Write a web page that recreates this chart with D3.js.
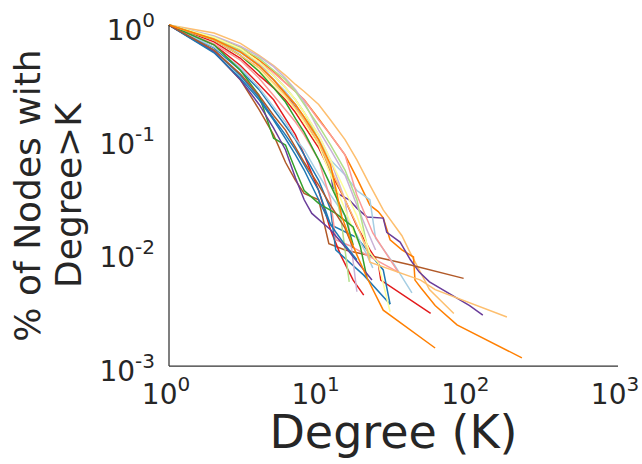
<!DOCTYPE html>
<html>
<head>
<meta charset="utf-8">
<script src="https://cdn.jsdelivr.net/npm/d3@7"></script>
<style>
  body { margin: 0; background: #fff; }
  svg text { font-family: "DejaVu Sans", sans-serif; fill: #262626; }
</style>
</head>
<body>
<div id="chart"></div>
<script>
// CCDF curves, [degree K, fraction of nodes with degree > K]
let line01 = [[1,1],[2,0.85],[3,0.69],[4,0.54],[5,0.44],[6,0.36],[7,0.30],[8,0.26],[10,0.20],[12,0.146],[15,0.098],[18,0.065],[22,0.039],[27,0.0236],[36,0.014],[40,0.0105],[45,0.0078],[55,0.0047],[80,0.0029]];
let line02 = [[1,1],[2,0.78],[3,0.64],[4,0.49],[5,0.39],[6,0.31],[7,0.26],[8,0.22],[10,0.15],[12,0.108],[15,0.072],[18,0.045],[22,0.026],[25,0.0228],[27,0.0201],[30,0.0129],[36,0.0105],[43,0.0091],[44,0.0057],[48,0.0049],[60,0.0034],[84,0.0023],[228,0.00118]];
let line03 = [[1,1],[2,0.77],[3,0.58],[4,0.44],[5,0.33],[6,0.25],[7,0.19],[8,0.15],[10,0.088],[12,0.053],[12.4,0.038],[13.3,0.033],[16,0.029],[18,0.0245],[21,0.0205],[27,0.020],[28.5,0.015],[35,0.0123],[41,0.0086],[47,0.0067],[55,0.0055],[102,0.0034],[125,0.0028]];
let line04 = [[1,1],[2,0.58],[3,0.33],[4,0.18],[5,0.108],[6,0.062],[7,0.043],[8,0.033],[10,0.029],[11.7,0.0119],[15,0.0105],[25,0.009],[40,0.0078],[93,0.0059]];
let line05 = [[1,1],[2,0.71],[3,0.51],[4,0.36],[5,0.28],[6,0.22],[7,0.17],[8,0.13],[10,0.083],[12,0.051],[15,0.029],[18,0.017],[22,0.0105],[25,0.0081],[26,0.0057],[56,0.0029]];
let line06 = [[1,1],[2,0.67],[3,0.44],[4,0.30],[5,0.22],[6,0.15],[7,0.108],[8,0.072],[10,0.035],[12,0.0158],[14,0.0095],[17,0.0057],[20,0.0042]];
let line07 = [[1,1],[2,0.60],[3,0.36],[4,0.23],[5,0.15],[6,0.108],[7,0.08],[8,0.059],[10,0.035],[12,0.0175],[18,0.0135],[27,0.007],[30,0.0035]];
let line08 = [[1,1],[2,0.63],[3,0.40],[4,0.27],[5,0.18],[6,0.13],[7,0.098],[8,0.072],[10,0.043],[12,0.024],[13,0.0105],[20,0.0063],[30,0.0035]];
let line09 = [[1,1],[2,0.74],[3,0.57],[4,0.44],[5,0.33],[6,0.26],[7,0.20],[8,0.15],[10,0.098],[12,0.065],[15,0.048],[18,0.035],[22,0.029],[24,0.0133],[32,0.0078],[42,0.0044]];
let line10 = [[1,1],[2,0.64],[3,0.42],[4,0.28],[5,0.19],[6,0.14],[7,0.10],[8,0.08],[10,0.048],[12,0.032],[15,0.021],[18,0.0142],[21,0.0095],[23,0.0073]];
let line11 = [[1,1],[2,0.77],[3,0.60],[4,0.47],[5,0.38],[6,0.31],[7,0.26],[8,0.22],[10,0.146],[12,0.108],[15,0.072],[18,0.032],[23,0.0148],[34,0.0067]];
let line12 = [[1,1],[2,0.68],[3,0.49],[4,0.34],[5,0.24],[6,0.18],[7,0.14],[8,0.108],[10,0.065],[12,0.029],[13,0.0129],[16,0.0115],[34,0.0067]];
let line13 = [[1,1],[2,0.75],[3,0.58],[4,0.45],[5,0.36],[6,0.28],[7,0.22],[8,0.17],[10,0.108],[12,0.065],[15,0.029],[16,0.0158],[18,0.0045]];
let line14 = [[1,1],[2,0.80],[3,0.65],[4,0.53],[5,0.43],[6,0.34],[7,0.27],[8,0.21],[10,0.119],[12,0.08],[15,0.048],[18,0.026],[21,0.0158],[24,0.0105]];
let line15 = [[1,1],[2,0.77],[3,0.60],[4,0.47],[5,0.36],[6,0.28],[7,0.22],[8,0.17],[10,0.098],[12,0.053],[14,0.021],[16,0.0055]];
let line16 = [[1,1],[2,0.78],[3,0.63],[4,0.51],[5,0.40],[6,0.33],[7,0.26],[8,0.20],[10,0.13],[12,0.088],[15,0.053],[18,0.029],[20,0.0158],[22,0.0086]];
let line17 = [[1,1],[2,0.78],[3,0.62],[4,0.47],[5,0.36],[6,0.28],[7,0.22],[8,0.17],[10,0.108],[12,0.065],[15,0.035],[18,0.021],[22,0.0099],[25,0.0081],[30,0.003]];
let line18 = [[1,1],[2,0.74],[3,0.54],[4,0.40],[5,0.30],[6,0.23],[7,0.18],[8,0.137],[10,0.088],[12,0.048],[15,0.024],[18,0.0129]];
let line19 = [[1,1],[2,0.67],[3,0.40],[4,0.24],[4.7,0.127],[5,0.101],[6,0.088],[7,0.053],[8,0.035],[10,0.027],[13,0.022],[17,0.0167],[19,0.0112],[21,0.006]];
let line20 = [[1,1],[2,0.74],[3,0.54],[4,0.39],[5,0.28],[6,0.21],[7,0.15],[8,0.114],[10,0.065],[12,0.039],[15,0.021],[17,0.0116]];
let line21 = [[1,1],[2,0.58],[3,0.33],[4,0.20],[5,0.124],[6,0.08],[7,0.045],[8,0.029],[9,0.022],[12,0.0158],[16,0.0101],[22.7,0.0057]];
let line22 = [[1,1],[2,0.57],[3,0.34],[4,0.22],[5,0.146],[6,0.10],[7,0.072],[8,0.053],[10,0.029],[12,0.0175],[15,0.0116],[18,0.0086]];
let line23 = [[1,1],[2,0.74],[3,0.54],[4,0.42],[5,0.31],[6,0.24],[7,0.186],[8,0.146],[10,0.092],[12,0.055],[15,0.029],[18,0.0175],[21,0.0105],[22,0.0082],[48,0.0057],[60,0.0047],[181,0.0027]];
let line24 = [[1,1],[2,0.60],[3,0.37],[4,0.24],[5,0.16],[6,0.119],[7,0.084],[8,0.062],[10,0.039],[12,0.026],[15,0.0163],[17,0.0109]];
let line25 = [[1,1],[2,0.75],[3,0.58],[4,0.44],[5,0.33],[6,0.25],[7,0.20],[8,0.155],[10,0.098],[12,0.059],[14.3,0.0205],[16,0.0137],[18,0.0095],[21,0.006],[27,0.0031],[60,0.00144]];

let lines = [line01, line02, line03, line04, line05, line06, line07, line08, line09, line10,
             line11, line12, line13, line14, line15, line16, line17, line18, line19, line20,
             line21, line22, line23, line24, line25];
let line_colors = ["#fdbf6f", "#ff7f00", "#6a3d9a", "#b15928", "#e31a1c", "#e31a1c", "#1f78b4", "#1f78b4",
                   "#a6cee3", "#a6cee3", "#fb9a99", "#fb9a99", "#cab2d6", "#cab2d6", "#b2df8a", "#b2df8a",
                   "#ffff99", "#ffff99", "#33a02c", "#33a02c", "#6a3d9a", "#1f78b4", "#fdbf6f", "#b15928", "#ff7f00"];

let x_ticks = [1, 10, 100, 1000];
let x_exps = ["0", "1", "2", "3"];
let y_ticks = [1, 0.1, 0.01, 0.001];
let y_exps = ["0", "-1", "-2", "-3"];

let width = 642;
let height = 464;
let margin = {top: 25, right: 24, bottom: 98, left: 169};

let svg = d3.select("#chart")
            .append("svg")
            .attr("width", width)
            .attr("height", height);

let x = d3.scaleLog()
          .domain([1, 1000])
          .range([margin.left, width - margin.right]);

let y = d3.scaleLog()
          .domain([0.001, 1])
          .range([height - margin.bottom, margin.top]);

let line = d3.line()
             .x(d => x(d[0]))
             .y(d => y(d[1]));

svg.append("g")
   .selectAll("path")
   .data(lines)
   .join("path")
   .attr("d", line)
   .style("fill", "none")
   .style("stroke", (d, i) => line_colors[i])
   .style("stroke-width", 1.5);

// spines (left + bottom only)
svg.append("line")
   .attr("x1", x(1)).attr("x2", x(1))
   .attr("y1", y(1)).attr("y2", y(0.001))
   .style("stroke", "#333").style("stroke-width", 1.25);

svg.append("line")
   .attr("x1", x(1)).attr("x2", x(1000))
   .attr("y1", y(0.001)).attr("y2", y(0.001))
   .style("stroke", "#333").style("stroke-width", 1.25);

// y tick labels
let yl = svg.append("g")
            .selectAll("text")
            .data(y_ticks)
            .join("text")
            .attr("x", 155)
            .attr("y", d => y(d) + 15)
            .attr("text-anchor", "end");
yl.append("tspan").style("font-size", "28px").text("10");
yl.append("tspan").style("font-size", "20px").attr("dy", -13).text((d, i) => y_exps[i]);

// x tick labels
let xl = svg.append("g")
            .selectAll("text")
            .data(x_ticks)
            .join("text")
            .attr("x", d => x(d) - 3)
            .attr("y", 404)
            .attr("text-anchor", "middle");
xl.append("tspan").style("font-size", "28px").text("10");
xl.append("tspan").style("font-size", "20px").attr("dy", -13).text((d, i) => x_exps[i]);

// axis titles
svg.append("text")
   .attr("x", (x(1) + x(1000)) / 2)
   .attr("y", 448)
   .attr("text-anchor", "middle")
   .style("font-size", "46px")
   .text("Degree (K)");

let ylab = svg.append("text")
              .attr("transform", "translate(40," + (y(1) + y(0.001)) / 2 + ") rotate(-90)")
              .attr("text-anchor", "middle")
              .style("font-size", "36px");
ylab.append("tspan").attr("x", 0).attr("y", 0).text("% of Nodes with");
ylab.append("tspan").attr("x", 0).attr("y", 41).text("Degree>K");
</script>
</body>
</html>
